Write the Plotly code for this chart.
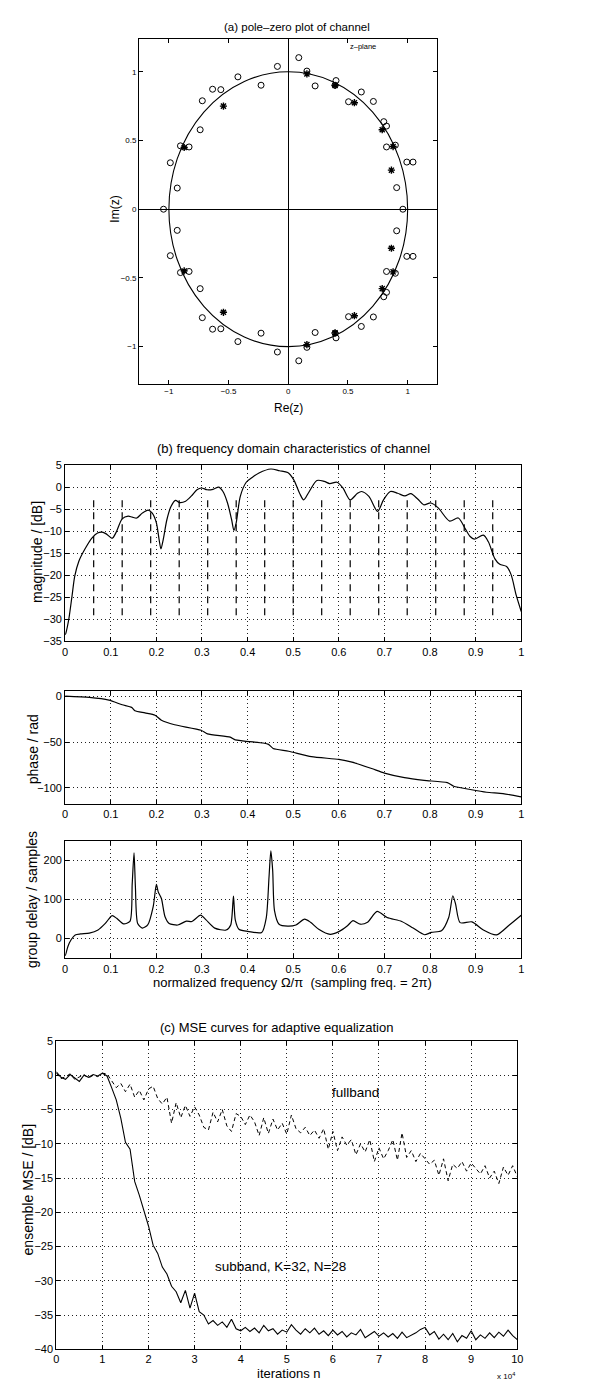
import plotly.graph_objects as go

W, H = 599, 1381
FONT = "Liberation Sans, Arial, Helvetica, sans-serif"

def px_x(p):
    return p / W

def px_y(p):
    return 1 - p / H

# ---------------- (a) pole-zero data (upper half; conjugates mirrored) ----------------
zeros_re_upper = [0.088, -0.091, 0.156, -0.422, -0.228, 0.225, -0.634, -0.565, 0.40, 0.392,
                  0.612, -0.72, 0.505, 0.713, -0.738, 0.80, 0.823, -0.903, -0.831, 0.823,
                  0.897, -0.988, 0.993, 1.045, -0.93, 0.908]
zeros_im_upper = [1.103, 1.039, 1.005, 0.963, 0.902, 0.897, 0.873, 0.870, 0.936, 0.902,
                  0.853, 0.789, 0.782, 0.784, 0.578, 0.637, 0.605, 0.461, 0.453, 0.453,
                  0.466, 0.338, 0.343, 0.343, 0.154, 0.157]
zeros_re_real = [-1.045, 0.96]
poles_re_upper = [0.156, 0.392, 0.554, 0.787, 0.878, 0.864, -0.543, -0.872]
poles_im_upper = [0.985, 0.90, 0.775, 0.578, 0.456, 0.284, 0.75, 0.449]

# ---------------- (b) frequency domain data ----------------
mag_freq = [0.0, 0.002, 0.008, 0.015, 0.021, 0.03, 0.043, 0.059, 0.071, 0.081,
            0.09, 0.103, 0.112, 0.125, 0.138, 0.147, 0.157, 0.169, 0.182, 0.191,
            0.2, 0.206, 0.21, 0.215, 0.223, 0.232, 0.242, 0.251, 0.264, 0.277,
            0.289, 0.299, 0.311, 0.324, 0.337, 0.346, 0.356, 0.365, 0.37, 0.375,
            0.384, 0.397, 0.41, 0.425, 0.451, 0.47, 0.488, 0.501, 0.514, 0.523,
            0.533, 0.552, 0.568, 0.58, 0.596, 0.609, 0.625, 0.641, 0.65, 0.666,
            0.685, 0.698, 0.713, 0.729, 0.745, 0.758, 0.773, 0.786, 0.802, 0.818,
            0.843, 0.862, 0.877, 0.888, 0.897, 0.917, 0.928, 0.942, 0.953, 0.968,
            0.978, 0.989, 1.0]
mag_db = [-33.5, -32.9, -29.9, -24.7, -20.2, -16.8, -14.1, -11.5, -10.4, -10.2,
          -10.6, -11.6, -10.2, -7.2, -6.6, -6.8, -7.0, -5.9, -5.2, -5.9,
          -8.1, -11.9, -14.0, -11.9, -7.4, -4.4, -3.0, -3.5, -3.2, -2.0,
          -0.6, -0.2, -0.6, -0.5, 0.0, -1.0, -3.6, -7.4, -9.8, -8.1,
          -2.1, 1.1, 2.2, 3.2, 4.1, 3.7, 3.3, 1.7, -1.4, -2.9,
          -1.4, 1.5, 1.3, 0.8, 1.1, -0.2, -2.9, -1.4, -1.0, -2.1,
          -5.5, -2.9, -1.0, -1.4, -2.0, -1.5, -2.7, -4.0, -3.6, -4.7,
          -7.7, -7.0, -9.4, -11.2, -11.8, -10.9, -12.4, -16.2, -17.5, -18.0,
          -19.9, -24.5, -28.2]
band_edges = [0.0625, 0.125, 0.1875, 0.25, 0.3125, 0.375, 0.4375, 0.5,
              0.5625, 0.625, 0.6875, 0.75, 0.8125, 0.875, 0.9375]
band_line_top_db = -3.0
band_line_bottom_db = -30.0

phase_freq = [0.0, 0.053, 0.096, 0.125, 0.146, 0.153, 0.175, 0.197, 0.211, 0.24,
              0.298, 0.312, 0.362, 0.373, 0.434, 0.446, 0.456, 0.49, 0.54, 0.6,
              0.629, 0.672, 0.7, 0.744, 0.787, 0.838, 0.852, 0.888, 0.924, 0.96, 1.0]
phase_rad = [0.5, -1.0, -4.0, -9.0, -12.0, -15.6, -18.0, -20.5, -26.0, -31.0,
             -37.0, -41.0, -44.6, -47.5, -51.0, -52.5, -57.0, -60.0, -66.0, -69.0,
             -72.0, -79.0, -84.0, -89.0, -92.0, -94.5, -98.5, -102.0, -105.0, -106.5, -110.0]

gd_freq = [0.0, 0.002, 0.006, 0.013, 0.022, 0.034, 0.053, 0.072, 0.088, 0.103,
           0.113, 0.128, 0.142, 0.147, 0.151, 0.154, 0.159, 0.169, 0.181, 0.193,
           0.2, 0.204, 0.211, 0.219, 0.228, 0.247, 0.266, 0.278, 0.297, 0.309,
           0.328, 0.353, 0.363, 0.369, 0.373, 0.381, 0.403, 0.431, 0.441, 0.447,
           0.451, 0.455, 0.459, 0.469, 0.488, 0.506, 0.525, 0.538, 0.556, 0.581,
           0.6, 0.619, 0.631, 0.647, 0.663, 0.684, 0.706, 0.738, 0.763, 0.788,
           0.803, 0.825, 0.841, 0.85, 0.856, 0.866, 0.892, 0.917, 0.946, 0.974, 1.0]
gd_samples = [-45, -38, -21, -4, 8.5, 11, 13, 21, 38, 58,
              51, 37, 43, 140, 219, 132, 38, 26, 34, 81,
              138, 119, 102, 55, 38, 34, 44, 43, 59, 47,
              26, 21, 34, 108, 47, 23, 17, 15, 53, 157,
              224, 174, 71, 36, 31, 34, 49, 41, 23, 10,
              17, 32, 45, 36, 41, 69, 53, 43, 26, 9,
              15, 19, 53, 109, 88, 40, 42, 21, 8.5, 34, 59]

# ---------------- (c) MSE curves (iterations in units of 1e4) ----------------
mse_iter = [k / 10 for k in range(101)]
mse_subband = [0.5, -0.3, -0.6, 0.1, -0.4, -0.9, 0.0, -0.3, 0.1, -0.1,
               0.3, -0.1, -1.8, -3.6, -6.3, -9.8, -10.8, -15.5, -17.5, -19.8,
               -22.0, -24.8, -26.0, -28.0, -29.0, -30.8, -31.6, -33.2, -31.4, -34.0,
               -31.8, -34.5, -35.0, -36.3, -35.8, -36.5, -36.0, -36.8, -35.6, -37.0,
               -37.3, -36.8, -37.4, -36.9, -37.6, -36.5, -37.3, -37.0, -37.8, -37.2,
               -37.5, -36.4, -37.2, -37.8, -37.0, -37.6, -36.9, -37.8, -37.3, -38.0,
               -37.2, -37.9, -37.4, -38.2, -37.6, -37.9, -37.1, -38.3, -37.8, -37.4,
               -38.1, -37.6, -38.2, -37.7, -38.4, -37.5, -38.3, -38.0, -37.6, -37.1,
               -36.8, -37.9, -37.4, -38.5, -37.8, -38.6, -37.7, -38.9, -38.0, -38.4,
               -37.3, -38.6, -37.9, -38.4, -37.6, -38.3, -37.5, -38.1, -37.2, -38.0,
               -38.6]
mse_fullband = [0.3, -0.5, -0.2, 0.2, -0.6, -0.3, 0.1, -0.4, 0.0, -0.2,
                0.3, 0.2, -0.8, -1.8, -1.2, -2.4, -1.3, -3.2, -2.2, -3.6,
                -2.0, -1.6, -3.4, -4.2, -3.2, -7.0, -4.0, -6.2, -4.4, -6.0,
                -4.6, -5.8, -7.6, -8.0, -5.4, -6.8, -5.0, -7.4, -8.2, -5.6,
                -6.0, -7.2, -5.8, -6.8, -8.8, -6.2, -8.5, -6.4, -8.0, -7.0,
                -8.6, -5.8, -7.8, -8.4, -7.6, -8.8, -8.0, -9.2, -7.8, -10.8,
                -8.2, -11.0, -9.0, -10.2, -9.4, -11.6, -10.0, -11.2, -9.4, -12.6,
                -10.6, -12.2, -11.0, -9.4, -12.4, -8.4, -12.0, -11.0, -12.6, -11.4,
                -12.2, -13.0, -12.4, -14.6, -12.2, -15.4, -13.0, -13.6, -12.6, -14.0,
                -12.8, -13.6, -14.4, -13.2, -15.0, -14.0, -15.8, -13.4, -14.6, -13.2,
                -14.8]

# ---------------- build figure ----------------
zeros_re = zeros_re_upper + zeros_re_upper + zeros_re_real
zeros_im = zeros_im_upper + [-v for v in zeros_im_upper] + [0.0 for _ in zeros_re_real]
poles_re = poles_re_upper + poles_re_upper
poles_im = poles_im_upper + [-v for v in poles_im_upper]

fig = go.Figure()

fig.add_trace(go.Scatter(x=zeros_re, y=zeros_im, mode="markers", xaxis="x", yaxis="y",
                         marker=dict(symbol="circle-open", size=6, color="black",
                                     line=dict(width=1, color="black"))))
fig.add_trace(go.Scatter(x=poles_re, y=poles_im, mode="markers", xaxis="x", yaxis="y",
                         marker=dict(symbol="asterisk-open", size=6, color="black",
                                     line=dict(width=1.4, color="black"))))
fig.add_shape(type="circle", xref="x", yref="y", x0=-1, y0=-1, x1=1, y1=1,
              line=dict(color="black", width=1.1))

bx, by = [], []
for e in band_edges:
    bx += [e, e, None]
    by += [band_line_top_db, band_line_bottom_db, None]
fig.add_trace(go.Scatter(x=bx, y=by, mode="lines", xaxis="x2", yaxis="y2",
                         line=dict(color="black", width=1.2, dash="7px,5px")))
fig.add_trace(go.Scatter(x=mag_freq, y=mag_db, mode="lines", xaxis="x2", yaxis="y2",
                         line=dict(color="black", width=1.2, shape="spline", smoothing=0.8)))
fig.add_trace(go.Scatter(x=phase_freq, y=phase_rad, mode="lines", xaxis="x3", yaxis="y3",
                         line=dict(color="black", width=1.2, shape="spline", smoothing=0.6)))
fig.add_trace(go.Scatter(x=gd_freq, y=gd_samples, mode="lines", xaxis="x4", yaxis="y4",
                         line=dict(color="black", width=1.2, shape="spline", smoothing=0.7)))
fig.add_trace(go.Scatter(x=mse_iter, y=mse_fullband, mode="lines", xaxis="x5", yaxis="y5",
                         line=dict(color="black", width=1.0, dash="4px,3px")))
fig.add_trace(go.Scatter(x=mse_iter, y=mse_subband, mode="lines", xaxis="x5", yaxis="y5",
                         line=dict(color="black", width=1.1)))


def axis(domain, rng, anchor, grid=True, dtick=None, tickvals=None, fsize=11):
    d = dict(domain=domain, range=rng, anchor=anchor, showline=True, linecolor="black",
             linewidth=1, mirror="ticks", ticks="inside", ticklen=4, tickcolor="black",
             tickwidth=1, showgrid=grid, gridcolor="#222", griddash="1px,3px", gridwidth=1,
             zeroline=False, tickfont=dict(family=FONT, size=fsize, color="black"),
             fixedrange=True)
    if dtick is not None:
        d["dtick"] = dtick
        d["tick0"] = 0
    if tickvals is not None:
        d["tickvals"] = tickvals
    return d

xa = axis([px_x(130), px_x(433)], [-1.25, 1.25], "y", grid=False,
          tickvals=[-1, -0.5, 0, 0.5, 1], fsize=8)
ya = axis([px_y(373), px_y(25)], [-1.27, 1.24], "x", grid=False,
          tickvals=[-1, -0.5, 0, 0.5, 1], fsize=8)
for a in (xa, ya):
    a.update(zeroline=True, zerolinecolor="black", zerolinewidth=1)

XB = [px_x(55), px_x(518)]
x4 = axis(XB, [0, 1], "y4", dtick=0.1)
x4["ticklabelstandoff"] = 1
x5 = axis([px_x(46), px_x(514)], [0, 10], "y5", dtick=1)
x5["ticklabelstandoff"] = 0

fig.update_layout(
    width=W, height=H, autosize=False,
    margin=dict(l=0, r=0, t=0, b=0),
    paper_bgcolor="white", plot_bgcolor="white",
    showlegend=False,
    font=dict(family=FONT, color="black"),
    xaxis=xa, yaxis=ya,
    xaxis2=axis(XB, [0, 1], "y2", dtick=0.1),
    yaxis2=axis([px_y(633), px_y(455)], [-35, 5], "x2", dtick=5),
    xaxis3=axis(XB, [0, 1], "y3", dtick=0.1),
    yaxis3=axis([px_y(797), px_y(683)], [-118, 6], "x3", tickvals=[-100, -50, 0]),
    xaxis4=x4,
    yaxis4=axis([px_y(952), px_y(834)], [-50, 250], "x4", tickvals=[0, 100, 200]),
    xaxis5=x5,
    yaxis5=axis([px_y(1347), px_y(1036)], [-40, 5], "x5", dtick=5),
)


def note(text, x, y, size, angle=0, xanchor="center"):
    fig.add_annotation(text=text, x=px_x(x), y=px_y(y), xref="paper", yref="paper",
                       showarrow=False, textangle=angle, xanchor=xanchor, yanchor="middle",
                       font=dict(family=FONT, size=size, color="black"))

note("(a) pole–zero plot of channel", 290, 13, 11.5)
note("Im(z)", 106, 197, 12, angle=-90)
note("Re(z)", 282, 397, 12)
note("z–plane", 357, 33, 7.5)
note("(b) frequency domain characteristics of channel", 287, 438, 13)
note("magnitude / [dB]", 27, 543, 14, angle=-90)
note("phase / rad", 22, 742, 14, angle=-90)
note("group delay / samples", 22, 893, 14, angle=-90)
note("normalized frequency Ω/π  (sampling freq. = 2π)", 286, 977, 13)
note("(c) MSE curves for adaptive equalization", 270, 1022, 13)
note("ensemble MSE / [dB]", 17, 1186, 14, angle=-90)
note("iterations n", 282, 1371, 13)
note("x 10<sup>4</sup>", 503, 1374, 8)

fig.add_annotation(text="fullband", x=6.5, y=-2.5, xref="x5", yref="y5", showarrow=False,
                   font=dict(family=FONT, size=13.5, color="black"))
fig.add_annotation(text="subband, K=32, N=28", x=4.86, y=-27.9, xref="x5", yref="y5",
                   showarrow=False, font=dict(family=FONT, size=13.5, color="black"))

fig.write_html("out.html")
